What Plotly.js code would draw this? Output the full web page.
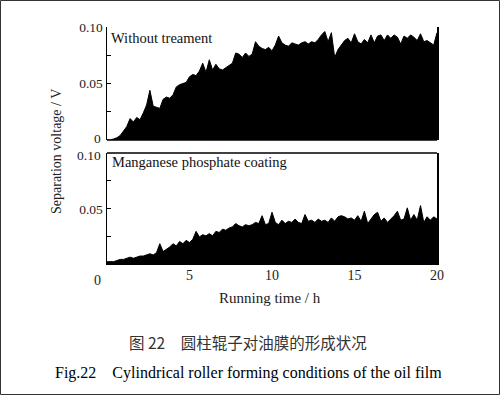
<!DOCTYPE html>
<html>
<head>
<meta charset="utf-8">
<script src="https://cdn.plot.ly/plotly-3.0.1.min.js"></script>
<style>html,body{margin:0;padding:0;background:#fff;}#chart{width:500px;height:395px;}</style>
</head>
<body>
<div id="chart"></div>
<script>
// Running time (h), 0.2 h steps
const timeH = [0,0.2,0.4,0.6,0.8,1,1.2,1.4,1.6,1.8,2,2.2,2.4,2.6,2.8,3,3.2,3.4,3.6,3.8,4,4.2,4.4,4.6,4.8,5,5.2,5.4,5.6,5.8,6,6.2,6.4,6.6,6.8,7,7.2,7.4,7.6,7.8,8,8.2,8.4,8.6,8.8,9,9.2,9.4,9.6,9.8,10,10.2,10.4,10.6,10.8,11,11.2,11.4,11.6,11.8,12,12.2,12.4,12.6,12.8,13,13.2,13.4,13.6,13.8,14,14.2,14.4,14.6,14.8,15,15.2,15.4,15.6,15.8,16,16.2,16.4,16.6,16.8,17,17.2,17.4,17.6,17.8,18,18.2,18.4,18.6,18.8,19,19.2,19.4,19.6,19.8,20];

// Separation voltage (V) — without treatment
const withoutTreatment = [0,0,0.001,0.002,0.004,0.008,0.012,0.019,0.016,0.020,0.018,0.024,0.031,0.044,0.030,0.029,0.028,0.036,0.038,0.037,0.040,0.047,0.049,0.050,0.051,0.056,0.058,0.057,0.061,0.068,0.060,0.071,0.062,0.067,0.063,0.062,0.064,0.066,0.068,0.077,0.076,0.073,0.077,0.074,0.076,0.087,0.083,0.081,0.080,0.082,0.079,0.084,0.092,0.086,0.084,0.083,0.086,0.085,0.084,0.086,0.087,0.085,0.087,0.086,0.089,0.093,0.096,0.087,0.095,0.073,0.080,0.084,0.088,0.090,0.086,0.094,0.087,0.085,0.089,0.086,0.093,0.086,0.092,0.093,0.088,0.093,0.090,0.093,0.091,0.085,0.092,0.090,0.093,0.091,0.088,0.094,0.087,0.088,0.086,0.084,0.095];

// Separation voltage (V) — manganese phosphate coating
const manganeseCoating = [0.003,0.003,0.003,0.004,0.005,0.005,0.006,0.007,0.006,0.007,0.008,0.008,0.009,0.010,0.009,0.011,0.019,0.012,0.014,0.016,0.019,0.017,0.021,0.019,0.022,0.020,0.023,0.030,0.025,0.027,0.026,0.028,0.026,0.030,0.029,0.032,0.031,0.033,0.034,0.037,0.035,0.034,0.036,0.035,0.036,0.038,0.037,0.044,0.036,0.037,0.047,0.038,0.036,0.040,0.037,0.039,0.038,0.041,0.038,0.037,0.045,0.039,0.040,0.038,0.041,0.039,0.040,0.038,0.042,0.039,0.043,0.044,0.043,0.041,0.042,0.040,0.044,0.039,0.048,0.037,0.041,0.045,0.047,0.039,0.042,0.038,0.041,0.044,0.048,0.040,0.041,0.051,0.040,0.045,0.040,0.053,0.038,0.043,0.040,0.043,0.041];

const xTickVals = [5,10,15,20];
const yTickVals = [0,0.025,0.05,0.075,0.1];
const yTickTextTop = ['','','0.05','','0.10'];
const yTickTextBottom = ['','','0.05','','',];

const serif = 'Liberation Serif, Times New Roman, serif';

const traces = [
  {x: timeH, y: withoutTreatment, type: 'scatter', mode: 'lines', fill: 'tozeroy',
   fillcolor: '#000', line: {color: '#000', width: 1}, xaxis: 'x', yaxis: 'y', hoverinfo: 'skip'},
  {x: timeH, y: manganeseCoating, type: 'scatter', mode: 'lines', fill: 'tozeroy',
   fillcolor: '#000', line: {color: '#000', width: 1}, xaxis: 'x', yaxis: 'y2', hoverinfo: 'skip'}
];

const tickFont = {family: serif, size: 13.5, color: '#222'};

const axisY = (domain, ticktext) => ({
  domain: domain, range: [0, 0.1], tickvals: yTickVals, ticktext: ticktext,
  ticks: 'inside', ticklen: 4, tickcolor: '#000', showgrid: false, zeroline: false,
  showline: true, linecolor: '#000', linewidth: 1.5, mirror: true,
  tickfont: tickFont
});

// paper coordinates (plot area: x 107..437, y 27..265)
const px = v => (v - 107) / 330;
const py = v => (265 - v) / 238;

const layout = {
  width: 500, height: 395,
  margin: {l: 107, r: 63, t: 27, b: 130},
  paper_bgcolor: '#fff', plot_bgcolor: '#fff',
  showlegend: false,
  xaxis: {range: [0, 20], tickvals: xTickVals, ticks: '', showgrid: false, zeroline: false,
          showline: false, anchor: 'y2', tickfont: {family: serif, size: 14, color: '#222'}},
  yaxis: axisY([0.525, 1], yTickTextTop),
  yaxis2: axisY([0, 0.471], yTickTextBottom),
  shapes: [
    {type: 'line', xref: 'paper', yref: 'paper', x0: 0, x1: 1, y0: 0.525, y1: 0.525, line: {color: '#000', width: 1.5}},
    {type: 'line', xref: 'paper', yref: 'paper', x0: 0, x1: 1, y0: 0.471, y1: 0.471, line: {color: '#000', width: 1.5}},
    {type: 'rect', xref: 'paper', yref: 'paper', x0: px(0.5), x1: px(499.5), y0: py(394.5), y1: py(0.5),
     line: {color: '#333', width: 1}}
  ],
  annotations: [
    // top panel "0" and bottom panel "0.10" tick labels, which sit close together
    {text: '0', xref: 'paper', yref: 'paper', x: px(102), y: py(146.5), xanchor: 'right', yanchor: 'bottom',
     borderpad: 0, showarrow: false, font: tickFont},
    {text: '0.10', xref: 'paper', yref: 'paper', x: px(102), y: py(146.5), xanchor: 'right', yanchor: 'top',
     borderpad: 0, showarrow: false, font: tickFont},
    {text: 'Without treament', xref: 'paper', yref: 'paper', x: px(109), y: py(38), xanchor: 'left', yanchor: 'middle',
     showarrow: false, font: {family: serif, size: 14.5, color: '#111'}},
    {text: 'Manganese phosphate coating', xref: 'paper', yref: 'paper', x: px(110), y: py(162), xanchor: 'left', yanchor: 'middle',
     showarrow: false, font: {family: serif, size: 14.5, color: '#111'}},
    {text: '0', xref: 'paper', yref: 'paper', x: px(97), y: py(280), xanchor: 'center', yanchor: 'middle',
     showarrow: false, font: {family: serif, size: 14, color: '#222'}},
    {text: 'Separation voltage / V', xref: 'paper', yref: 'paper', x: px(56), y: py(152), xanchor: 'center', yanchor: 'middle',
     textangle: -90, showarrow: false, font: {family: serif, size: 14, color: '#222'}},
    {text: 'Running time / h', xref: 'paper', yref: 'paper', x: px(270), y: py(298), xanchor: 'center', yanchor: 'middle',
     showarrow: false, font: {family: serif, size: 15, color: '#222'}},
    {text: '图 22\u3000圆柱辊子对油膜的形成状况', xref: 'paper', yref: 'paper', x: px(248), y: py(342), xanchor: 'center', yanchor: 'middle',
     showarrow: false, font: {family: 'Noto Sans CJK SC', size: 15.5, color: '#333'}},
    {text: 'Fig.22\u2003Cylindrical roller forming conditions of the oil film', xref: 'paper', yref: 'paper', x: px(248), y: py(373), xanchor: 'center', yanchor: 'middle',
     showarrow: false, font: {family: serif, size: 16, color: '#000'}}
  ]
};

Plotly.newPlot('chart', traces, layout, {displayModeBar: false, staticPlot: true});
</script>
</body>
</html>
